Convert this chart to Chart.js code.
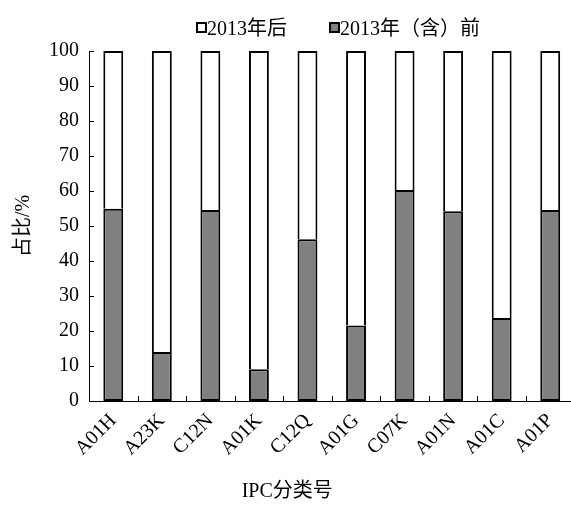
<!DOCTYPE html>
<html>
<head>
<meta charset="utf-8">
<script src="https://cdn.jsdelivr.net/npm/chart.js@4.4.0/dist/chart.umd.min.js"></script>
<style>
  html, body { margin: 0; padding: 0; overflow: hidden; background: #fff; }
  #wrap { position: relative; width: 576px; height: 506px; }
  #legend { position: absolute; left: 0; top: 0; font: 20px 'Liberation Serif', 'Noto Sans CJK SC', serif; color: #000; }
  .lg-box { position: absolute; box-sizing: border-box; width: 11px; height: 11px; border: 2px solid #000; }
  .lg-text { position: absolute; line-height: 20px; white-space: nowrap; }
</style>
</head>
<body>
<div id="wrap">
  <canvas id="c" width="576" height="506"></canvas>
  <div id="legend"></div>
</div>
<script>
// IPC classes on the x axis
const categories = ['A01H', 'A23K', 'C12N', 'A01K', 'C12Q', 'A01G', 'C07K', 'A01N', 'A01C', 'A01P'];
// share (%) of filings up to and including 2013
const before2013 = [54.9, 14.0, 54.6, 9.1, 46.2, 21.6, 60.3, 54.2, 23.7, 54.6];
// share (%) of filings after 2013
const after2013 = [45.1, 86.0, 45.4, 90.9, 53.8, 78.4, 39.7, 45.8, 76.3, 45.4];
// y axis range and step
const yTicks = { min: 0, max: 100, step: 10 };

const FONT = "'Liberation Serif', 'Noto Sans CJK SC', serif";

// short tick marks pointing into the plot area
const innerTicks = {
  id: 'innerTicks',
  afterDraw(chart) {
    const { ctx, chartArea, scales: { x, y } } = chart;
    ctx.save();
    ctx.strokeStyle = '#000';
    ctx.lineWidth = 1;
    ctx.beginPath();
    y.ticks.forEach(t => {
      const py = Math.round(y.getPixelForValue(t.value)) + 0.5;
      ctx.moveTo(chartArea.left, py);
      ctx.lineTo(chartArea.left + 5, py);
    });
    for (let i = 1; i < categories.length; i++) {
      const px = Math.round((x.getPixelForValue(i - 1) + x.getPixelForValue(i)) / 2) + 0.5;
      ctx.moveTo(px, chartArea.bottom);
      ctx.lineTo(px, chartArea.bottom - 5);
    }
    ctx.stroke();
    ctx.restore();
  }
};

const chart = new Chart(document.getElementById('c'), {
  type: 'bar',
  data: {
    labels: categories,
    datasets: [
      {
        label: '2013年（含）前',
        data: before2013,
        backgroundColor: '#808080',
        borderColor: '#000',
        borderWidth: 2,
        borderSkipped: false
      },
      {
        label: '2013年后',
        data: after2013,
        backgroundColor: '#ffffff',
        borderColor: '#000',
        borderWidth: 2
      }
    ]
  },
  options: {
    responsive: false,
    animation: false,
    events: [],
    layout: { padding: { top: 51, right: 1.5, bottom: 0, left: 0 } },
    datasets: { bar: { categoryPercentage: 1, barPercentage: 0.41 } },
    plugins: {
      legend: { display: false },
      tooltip: { enabled: false },
      title: {
        display: true,
        position: 'bottom',
        text: 'IPC分类号',
        color: '#000',
        font: { family: FONT, size: 20, weight: 'normal' },
        padding: { top: 0, bottom: 2 }
      }
    },
    scales: {
      x: {
        stacked: true,
        grid: { display: false, drawTicks: false },
        border: { display: true, color: '#000', width: 1 },
        ticks: {
          color: '#000',
          font: { family: FONT, size: 20 },
          minRotation: 45,
          maxRotation: 45,
          autoSkip: false,
          padding: 8
        },
        afterFit(scale) { scale.height = 79; }
      },
      y: {
        stacked: true,
        min: yTicks.min,
        max: yTicks.max,
        grid: { display: false, drawTicks: false },
        border: { display: true, color: '#000', width: 1 },
        ticks: {
          stepSize: yTicks.step,
          color: '#000',
          font: { family: FONT, size: 20 },
          padding: 10
        },
        title: {
          display: true,
          text: '占比/%',
          color: '#000',
          font: { family: FONT, size: 20 },
          padding: { top: 12, bottom: 0 }
        },
        afterFit(scale) { scale.width = 89; }
      }
    }
  },
  plugins: [innerTicks]
});

// legend built from the chart's datasets (listed top series first)
const legendEl = document.getElementById('legend');
const legendPos = [{ box: 196, text: 207 }, { box: 329, text: 340 }];
chart.data.datasets.slice().reverse().forEach((ds, i) => {
  const box = document.createElement('span');
  box.className = 'lg-box';
  box.style.left = legendPos[i].box + 'px';
  box.style.top = '22px';
  box.style.background = ds.backgroundColor;
  const txt = document.createElement('span');
  txt.className = 'lg-text';
  txt.style.left = legendPos[i].text + 'px';
  txt.style.top = '18px';
  txt.textContent = ds.label;
  legendEl.appendChild(box);
  legendEl.appendChild(txt);
});
</script>
</body>
</html>
